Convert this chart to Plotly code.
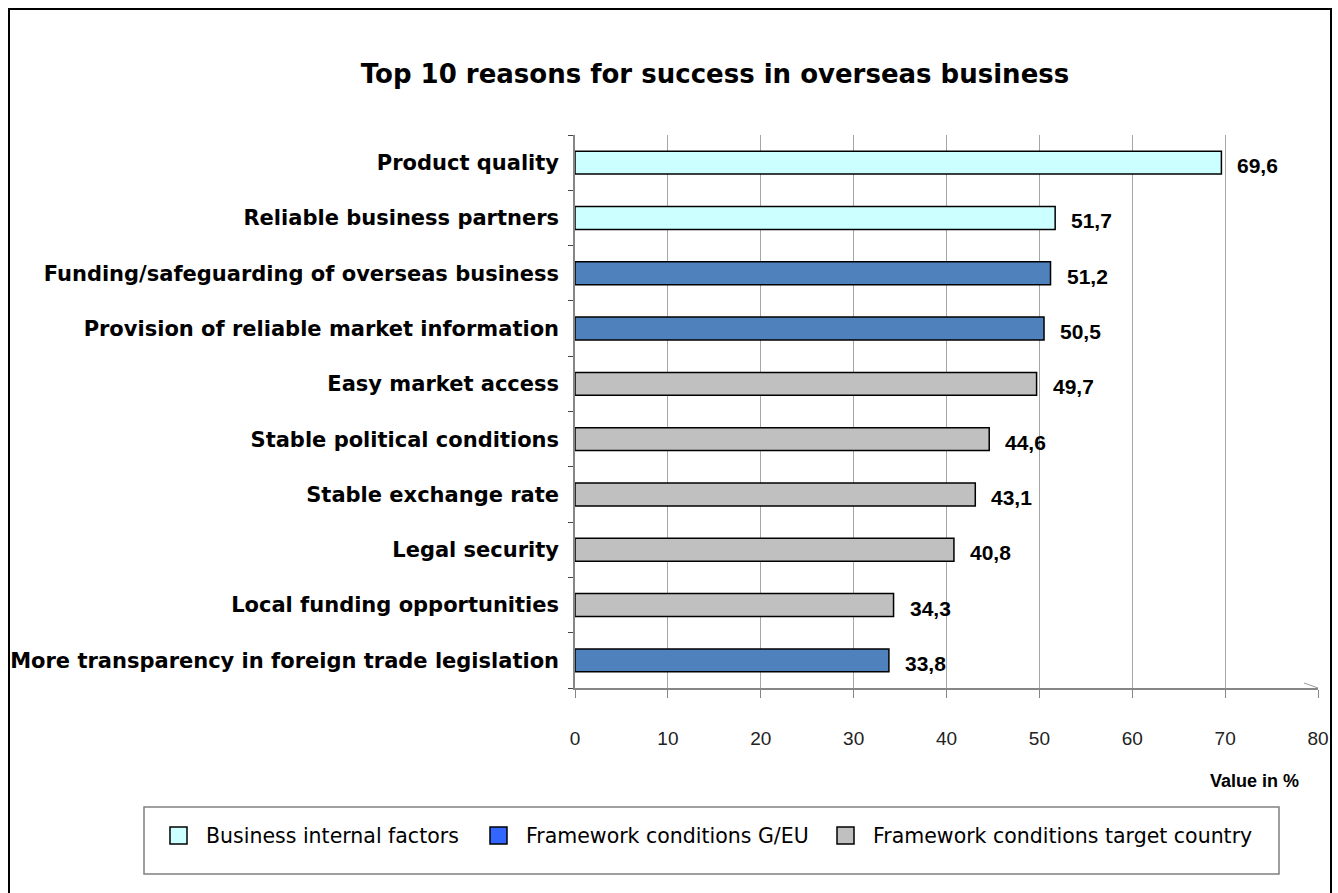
import plotly.graph_objects as go

# ---- data ----
categories = [
    "Product quality",
    "Reliable business partners",
    "Funding/safeguarding of overseas business",
    "Provision of reliable market information",
    "Easy market access",
    "Stable political conditions",
    "Stable exchange rate",
    "Legal security",
    "Local funding opportunities",
    "More transparency in foreign trade legislation",
]
values = [69.6, 51.7, 51.2, 50.5, 49.7, 44.6, 43.1, 40.8, 34.3, 33.8]
groups = [
    "Business internal factors",
    "Business internal factors",
    "Framework conditions G/EU",
    "Framework conditions G/EU",
    "Framework conditions target country",
    "Framework conditions target country",
    "Framework conditions target country",
    "Framework conditions target country",
    "Framework conditions target country",
    "Framework conditions G/EU",
]
group_names = ["Business internal factors", "Framework conditions G/EU",
               "Framework conditions target country"]
bar_colors = {"Business internal factors": "#CCFFFF",
              "Framework conditions G/EU": "#4F81BD",
              "Framework conditions target country": "#C0C0C0"}
legend_colors = {"Business internal factors": "#CCFFFF",
                 "Framework conditions G/EU": "#3366FF",
                 "Framework conditions target country": "#C0C0C0"}
x_ticks = [0, 10, 20, 30, 40, 50, 60, 70, 80]

W, H = 1338, 893
L, R, T, B = 575, 20, 135, 205
pw, ph = W - L - R, H - T - B


def px_x(p):
    return (p - L) / pw


def px_y(p):
    return (H - B - p) / ph


fig = go.Figure()
for g in group_names:
    ys = [c for c, gg in zip(categories, groups) if gg == g]
    xs = [v for v, gg in zip(values, groups) if gg == g]
    fig.add_trace(go.Bar(
        x=xs, y=ys, orientation="h", name=g, showlegend=False,
        marker=dict(color=bar_colors[g], line=dict(color="#000000", width=1.5)),
        hoverinfo="x+y",
    ))

annotations = []
for c, v in zip(categories, values):
    annotations.append(dict(
        x=v, y=c, xref="x", yref="y", text="<b>" + f"{v:.1f}".replace(".", ",") + "</b>",
        showarrow=False, xanchor="left", yanchor="middle", xshift=14, yshift=-3,
        font=dict(family="Liberation Sans, Arial, sans-serif", size=21, color="#000"),
    ))

# axis title
annotations.append(dict(
    x=px_x(1301), y=px_y(781), xref="paper", yref="paper", text="<b>Value in %</b>",
    showarrow=False, xanchor="right", yanchor="middle",
    font=dict(family="Liberation Sans, Arial, sans-serif", size=18, color="#000"),
))

shapes = []
# outer frame
shapes.append(dict(type="rect", xref="paper", yref="paper",
                   x0=px_x(9), x1=px_x(1331), y0=px_y(905), y1=px_y(9),
                   line=dict(color="#000", width=2), fillcolor="rgba(0,0,0,0)"))
# small artifact stroke near axis end
shapes.append(dict(type="line", xref="paper", yref="paper",
                   x0=px_x(1304), y0=px_y(683), x1=px_x(1318), y1=px_y(688),
                   line=dict(color="#999", width=1)))
# legend box
shapes.append(dict(type="rect", xref="paper", yref="paper",
                   x0=px_x(144), x1=px_x(1279), y0=px_y(874), y1=px_y(807),
                   line=dict(color="#808080", width=1.5), fillcolor="#fff"))
leg_marker_x = [170, 490, 837]
for g, mx in zip(group_names, leg_marker_x):
    shapes.append(dict(type="rect", xref="paper", yref="paper",
                       x0=px_x(mx), x1=px_x(mx + 17), y0=px_y(844), y1=px_y(827),
                       line=dict(color="#000", width=1.5), fillcolor=legend_colors[g]))
    annotations.append(dict(
        x=px_x(mx + 34), y=px_y(836), xref="paper", yref="paper", text=g,
        showarrow=False, xanchor="left", yanchor="middle",
        font=dict(family="DejaVu Sans, sans-serif", size=20.5, color="#000"),
    ))

fig.update_layout(
    width=W, height=H,
    margin=dict(l=L, r=R, t=T, b=B, autoexpand=False),
    paper_bgcolor="#fff", plot_bgcolor="#fff",
    barmode="overlay", bargap=0.585,
    showlegend=False,
    title=dict(text="<b>Top 10 reasons for success in overseas business</b>",
               x=715 / W, xanchor="center", xref="container",
               y=1 - 74 / H, yanchor="middle", yref="container",
               font=dict(family="DejaVu Sans, sans-serif", size=26, color="#000")),
    xaxis=dict(range=[0, 80], tickvals=x_ticks, ticktext=[str(t) for t in x_ticks],
               showgrid=True, gridcolor="#A6A6A6", gridwidth=1,
               showline=True, linecolor="#868686", linewidth=1.5,
               ticks="outside", ticklen=8, tickcolor="#868686",
               ticklabelstandoff=24, zeroline=False, fixedrange=True,
               tickfont=dict(family="Liberation Sans Narrow, Arial Narrow, Liberation Sans, sans-serif",
                             size=19, color="#222")),
    yaxis=dict(categoryorder="array", categoryarray=categories[::-1],
               type="category", tickson="boundaries",
               showgrid=False, showline=True, linecolor="#868686", linewidth=1.5,
               ticks="outside", ticklen=5, tickcolor="#444",
               ticklabelstandoff=10, zeroline=False, fixedrange=True,
               tickfont=dict(family="DejaVu Sans, sans-serif", size=21, color="#000"),
               tickprefix="<b>", ticksuffix="</b>"),
    shapes=shapes, annotations=annotations,
)

fig.write_html("out.html")
